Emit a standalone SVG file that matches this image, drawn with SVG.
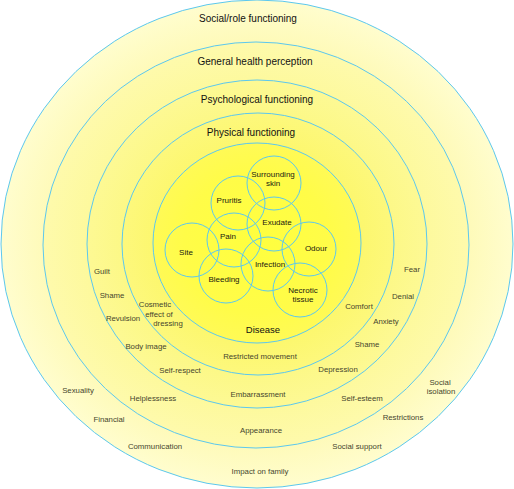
<svg xmlns="http://www.w3.org/2000/svg" width="514" height="489" viewBox="0 0 514 489">
<defs>
<radialGradient id="g1"><stop offset="0.82" stop-color="#FEFAB8"/><stop offset="1" stop-color="#FFFDCE"/></radialGradient>
<radialGradient id="g2"><stop offset="0.79" stop-color="#FDF99C"/><stop offset="1" stop-color="#FEFAAC"/></radialGradient>
<radialGradient id="g3"><stop offset="0.79" stop-color="#FCF886"/><stop offset="1" stop-color="#FDF994"/></radialGradient>
<radialGradient id="g4"><stop offset="0.76" stop-color="#FCF76E"/><stop offset="1" stop-color="#FDF87C"/></radialGradient>
<radialGradient id="g5"><stop offset="0" stop-color="#FFFF3E"/><stop offset="0.7" stop-color="#FFFC48"/><stop offset="1" stop-color="#FFFA56"/></radialGradient>
<style>
.ring{stroke:#5CC8EE;stroke-width:1}
.c{fill:none;stroke:#5CC8EE;stroke-width:1}
text{font-family:"Liberation Sans",Arial,sans-serif;text-anchor:middle}
.h{font-size:10px;fill:#111}
.n{font-size:8px;fill:#1a1a10}
.d{font-size:9.5px;fill:#111}
.l{font-size:7.8px;fill:#46462e}
</style>
</defs>
<g id="rings">
<ellipse id="social" class="ring" fill="url(#g1)" cx="257" cy="244" rx="256" ry="244"/>
<ellipse id="general" class="ring" fill="url(#g2)" cx="256" cy="245" rx="213" ry="203"/>
<ellipse id="psych" class="ring" fill="url(#g3)" cx="257" cy="244" rx="170" ry="164"/>
<ellipse id="physical" class="ring" fill="url(#g4)" cx="258" cy="244" rx="136" ry="131"/>
<ellipse id="disease" class="ring" fill="url(#g5)" cx="257" cy="243" rx="104" ry="100"/>
</g>
<g id="ring-labels">
<text class="h" x="248" y="22">Social/role functioning</text>
<text class="h" x="255" y="65">General health perception</text>
<text class="h" x="257" y="103">Psychological functioning</text>
<text class="h" x="251" y="135.5">Physical functioning</text>
<text class="d" x="263" y="333">Disease</text>
</g>
<g id="n-surrounding"><circle class="c" cx="274" cy="183" r="27"/><text class="n" x="273" y="177">Surrounding</text><text class="n" x="273" y="186">skin</text></g>
<g id="n-pruritis"><circle class="c" cx="238" cy="203" r="27"/><text class="n" x="229" y="203">Pruritis</text></g>
<g id="n-exudate"><circle class="c" cx="274" cy="224" r="27"/><text class="n" x="277" y="225">Exudate</text></g>
<g id="n-odour"><circle class="c" cx="309" cy="249" r="27"/><text class="n" x="316" y="251">Odour</text></g>
<g id="n-site"><circle class="c" cx="192" cy="250" r="27"/><text class="n" x="186" y="255">Site</text></g>
<g id="n-pain"><circle class="c" cx="234" cy="240" r="27"/><text class="n" x="228" y="239">Pain</text></g>
<g id="n-infection"><circle class="c" cx="268" cy="264" r="27"/><text class="n" x="270" y="267">Infection</text></g>
<g id="n-bleeding"><circle class="c" cx="226" cy="276" r="27"/><text class="n" x="224" y="282">Bleeding</text></g>
<g id="n-necrotic"><circle class="c" cx="300" cy="290" r="27"/><text class="n" x="303" y="293">Necrotic</text><text class="n" x="303" y="302">tissue</text></g>
<g id="factors">
<text class="l" x="102" y="274">Guilt</text>
<text class="l" x="112" y="298">Shame</text>
<text class="l" x="123" y="321">Revulsion</text>
<text class="l" x="155" y="307">Cosmetic</text>
<text class="l" x="159" y="317">effect of</text>
<text class="l" x="168" y="326">dressing</text>
<text class="l" x="146" y="349">Body image</text>
<text class="l" x="180" y="373">Self-respect</text>
<text class="l" x="78" y="393">Sexuality</text>
<text class="l" x="153" y="401">Helplessness</text>
<text class="l" x="109" y="422">Financial</text>
<text class="l" x="155" y="449">Communication</text>
<text class="l" x="260" y="359">Restricted movement</text>
<text class="l" x="258" y="397">Embarrassment</text>
<text class="l" x="261" y="433">Appearance</text>
<text class="l" x="260" y="474">Impact on family</text>
<text class="l" x="412" y="272">Fear</text>
<text class="l" x="403" y="299">Denial</text>
<text class="l" x="359" y="309">Comfort</text>
<text class="l" x="386" y="324">Anxiety</text>
<text class="l" x="367" y="347">Shame</text>
<text class="l" x="338" y="372">Depression</text>
<text class="l" x="440" y="385">Social</text>
<text class="l" x="441" y="394">isolation</text>
<text class="l" x="362" y="401">Self-esteem</text>
<text class="l" x="403" y="420">Restrictions</text>
<text class="l" x="357" y="449">Social support</text>
</g>
</svg>
